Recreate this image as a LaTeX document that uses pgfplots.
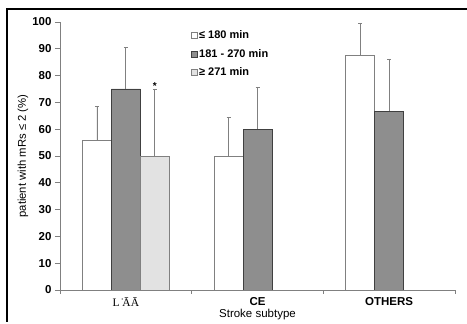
\documentclass[border=0pt]{standalone}
\usepackage{pgfplots}
\pgfplotsset{compat=1.18}
\usepackage{fontspec}
\setmainfont{Liberation Sans}
\newfontfamily\seriffont{Liberation Serif}
\definecolor{axgray}{HTML}{808080}
\definecolor{darkbar}{HTML}{8E8E8E}
\definecolor{lightbar}{HTML}{E2E2E2}
\begin{document}
\begin{tikzpicture}
\useasboundingbox (0,0) rectangle (467pt,324pt);
\draw[black, line width=1.1pt] (7pt,2pt) -- (7pt,315pt) -- (467pt,315pt);
\begin{axis}[
  at={(60pt,34pt)}, anchor=south west,
  scale only axis, width=395pt, height=268pt,
  xmin=-0.5, xmax=2.5, ymin=0, ymax=100,
  axis x line*=bottom, axis y line*=left,
  axis line style={axgray, line width=0.7pt},
  xtick={0,1,2},
  xticklabels={{\normalfont\seriffont\fontsize{11.5}{12}\selectfont L\.{}\={A}\={A}}, CE, OTHERS},
  xticklabel style={inner sep=1pt, yshift=-1pt},
  major x tick style={draw=none},
  minor xtick={-0.5,0.5,1.5,2.5},
  minor tick length=4pt,
  ytick={0,10,...,100},
  major tick length=5pt,
  tick align=outside,
  tick style={axgray, line width=0.7pt},
  ticklabel style={font=\fontsize{11.5}{12}\selectfont\bfseries},
  /pgf/number format/assume math mode=true,
  ylabel={patient with mRs ≤ 2 (\%)},
  every axis y label/.style={at={(axis description cs:-0.094,0.5)}, rotate=90, anchor=center, font=\fontsize{11.3}{12}\selectfont},
  xlabel={Stroke subtype},
  every axis x label/.style={at={(axis description cs:0.5,-0.093)}, anchor=center, font=\fontsize{11.5}{12}\selectfont},
  ybar, bar width=0.22,
  error bars/error bar style={axgray, line width=0.7pt},
  error bars/error mark options={rotate=90, mark size=2pt, axgray, line width=0.7pt},
  legend style={at={(0.33,0.975)}, anchor=north west, draw=none, fill=none,
    font=\fontsize{11}{12}\selectfont\bfseries, row sep=5pt, inner sep=0pt},
  legend cell align=left,
  legend image code/.code={\draw[#1, line width=0.6pt] (0pt,-3pt) rectangle (6pt,3pt);},
]
\addplot[bar shift=-0.22, fill=white, draw=axgray, line width=0.7pt,
  error bars/.cd, y dir=plus, y explicit]
  coordinates {(0,56) +- (0,12.4) (1,50) +- (0,14.5) (2,87.5) +- (0,12)};
\addlegendentry{≤ 180 min}
\addplot[bar shift=0, fill=darkbar, draw=black!75, line width=0.7pt,
  error bars/.cd, y dir=plus, y explicit]
  coordinates {(0,75) +- (0,15.5) (1,60) +- (0,15.5) (2,66.7) +- (0,19.5)};
\addlegendentry{181 - 270 min}
\addplot[bar shift=0.22, fill=lightbar, draw=axgray, line width=0.7pt,
  error bars/.cd, y dir=plus, y explicit]
  coordinates {(0,50) +- (0,25)};
\addlegendentry{≥ 271 min}
\node[anchor=south, font=\fontsize{10}{12}\selectfont\bfseries, inner sep=1pt] at (axis cs:0.22,74.5) {*};
\end{axis}
\end{tikzpicture}
\end{document}
